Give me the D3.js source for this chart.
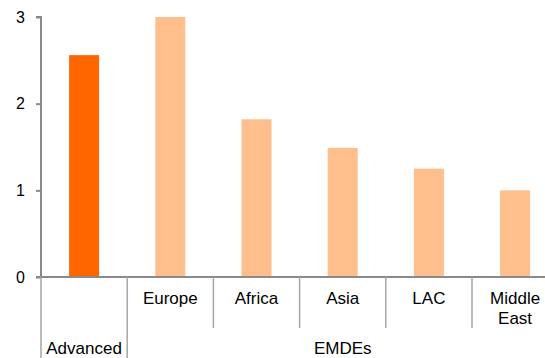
<!DOCTYPE html>
<html>
<head>
<meta charset="utf-8">
<script src="https://cdn.jsdelivr.net/npm/d3@7"></script>
<style>
  html, body { margin: 0; padding: 0; background: #fff; }
  svg { display: block; font-family: "Liberation Sans", Arial, sans-serif; }
</style>
</head>
<body>
<svg id="chart" width="545" height="358"></svg>
<script>
// Regions and their values
const categories = ["Advanced", "Europe", "Africa", "Asia", "LAC", "Middle East"];
const values = [2.56, 3.0, 1.82, 1.49, 1.25, 1.0];
const groups = ["Advanced", "EMDEs", "EMDEs", "EMDEs", "EMDEs", "EMDEs"];
const groupLabels = ["Advanced", "EMDEs"];
const yTicks = [0, 1, 2, 3];

const svg = d3.select("#chart");
const plotLeft = 41, plotTop = 17, plotBottom = 277, bandW = 86.2;
const axisColor = "#898989";

const x = d3.scaleBand()
  .domain(categories)
  .range([plotLeft, plotLeft + bandW * categories.length])
  .paddingInner(0).paddingOuter(0);

const y = d3.scaleLinear().domain([0, 3]).range([plotBottom, plotTop]);

// Bars
const barW = 30;
svg.append("g").selectAll("rect")
  .data(categories)
  .join("rect")
  .attr("x", d => x(d) + x.bandwidth() / 2 - barW / 2)
  .attr("width", barW)
  .attr("y", (d, i) => y(values[i]))
  .attr("height", (d, i) => y(0) - y(values[i]))
  .attr("fill", (d, i) => groups[i] === "Advanced" ? "#FF6600" : "#FFBF8C");

// Y axis
const yAxis = svg.append("g")
  .attr("transform", `translate(${plotLeft},0)`)
  .call(d3.axisLeft(y).tickValues(yTicks).tickFormat(d3.format("d")).tickSize(5).tickPadding(11));
yAxis.select(".domain").attr("stroke", axisColor).attr("stroke-width", 2)
  .attr("d", `M-5,${y(3)}H0V${y(0)}`);
yAxis.selectAll(".tick line").attr("stroke", axisColor).attr("stroke-width", 2);
yAxis.selectAll(".tick text").attr("font-size", 16).attr("fill", "#000")
  .attr("font-family", "'Liberation Sans', Arial, sans-serif");

// X axis baseline
svg.append("line")
  .attr("x1", plotLeft - 5).attr("x2", 545)
  .attr("y1", plotBottom).attr("y2", plotBottom)
  .attr("stroke", axisColor).attr("stroke-width", 2);

// Category separators
const edges = categories.map(c => x(c)).concat([x.range()[1]]);
edges.forEach((ex, i) => {
  const isGroupEdge = i === 0 || i === edges.length - 1 || groups[i - 1] !== groups[i];
  svg.append("line")
    .attr("x1", ex).attr("x2", ex)
    .attr("y1", plotBottom).attr("y2", isGroupEdge ? 358 : 328)
    .attr("stroke", "#a6a6a6").attr("stroke-width", 1.5);
});

// Category labels (wrap multi-word names)
const labelG = svg.append("g").attr("font-size", 17).attr("fill", "#000").attr("text-anchor", "middle");
categories.forEach((c, i) => {
  if (groups[i] === "Advanced") return;
  const words = c.split(" ");
  const t = labelG.append("text")
    .attr("x", x(c) + x.bandwidth() / 2)
    .attr("y", 304);
  words.forEach((w, k) => {
    t.append("tspan").attr("x", x(c) + x.bandwidth() / 2).attr("dy", k === 0 ? 0 : 20).text(w);
  });
});

// Group labels
groupLabels.forEach(g => {
  const members = categories.filter((c, i) => groups[i] === g);
  const x0 = x(members[0]);
  const x1 = x(members[members.length - 1]) + x.bandwidth();
  labelG.append("text")
    .attr("x", (x0 + x1) / 2)
    .attr("y", 354)
    .text(g);
});
</script>
</body>
</html>
